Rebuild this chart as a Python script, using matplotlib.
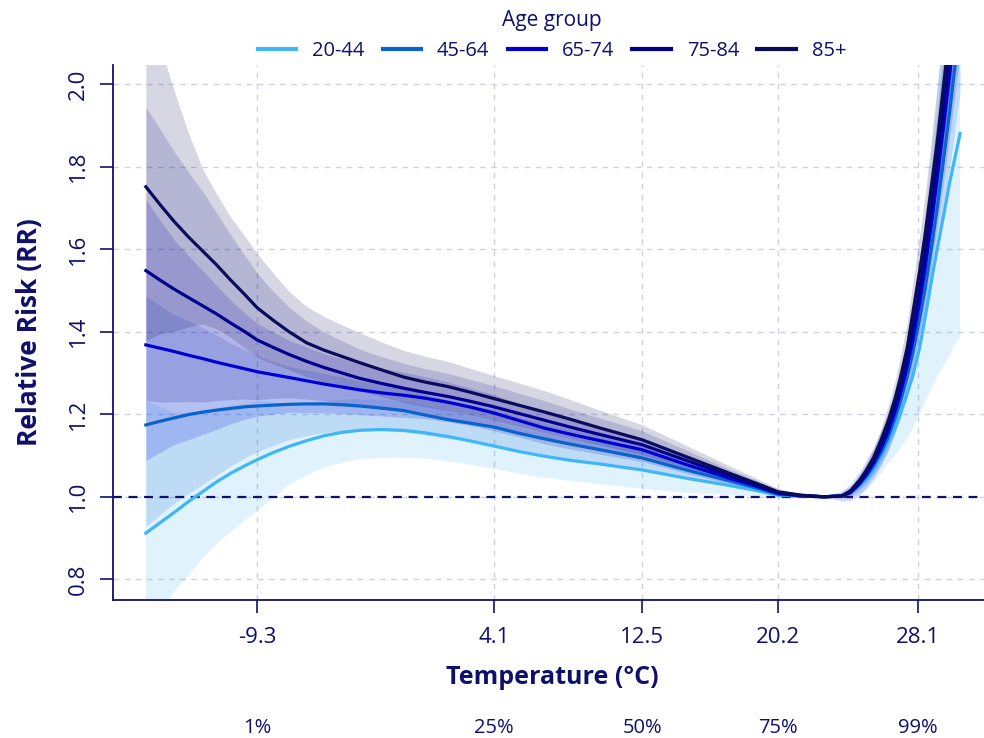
import matplotlib
matplotlib.use('Agg')
import matplotlib.pyplot as plt
import matplotlib.transforms as mtransforms
import numpy as np

plt.rcParams['font.family'] = ['Open Sans', 'DejaVu Sans']

# temperature grid (degC) and relative risk
temp = [-15.6, -14.8, -14, -13.2, -12.4, -11.6, -10.8, -10, -9.3, -8.4, -7.5, -6.5, -5.5,
        -4.5, -3.5, -2.3, -1, 0.2, 1.5, 2.8, 4.1, 5.5, 7, 8.5, 10, 12.5, 15, 17.5, 19,
        20.2, 21.5, 22.8, 23.8, 24.3, 24.8, 25.2, 25.6, 26, 26.4, 26.8, 27.1, 27.5,
        27.8, 28.2, 28.5, 28.9, 29.2, 29.6, 29.9, 30.2, 30.5]

rr_20_44 = [0.912, 0.937, 0.962, 0.988, 1.012, 1.036, 1.057, 1.075, 1.09, 1.107, 1.122, 1.136, 1.148,
            1.156, 1.161, 1.163, 1.161, 1.155, 1.146, 1.135, 1.123, 1.11, 1.098, 1.088, 1.08, 1.065, 1.045, 1.027, 1.015,
            1.004, 1.002, 1.0, 1.003, 1.012, 1.025, 1.042, 1.065, 1.095, 1.13, 1.165, 1.20, 1.25,
            1.29, 1.36, 1.43, 1.53, 1.60, 1.69, 1.76, 1.82, 1.88]
rr_45_64 = [1.174, 1.183, 1.191, 1.199, 1.205, 1.21, 1.214, 1.218, 1.22, 1.222, 1.224, 1.225, 1.225,
            1.223, 1.22, 1.215, 1.209, 1.198, 1.187, 1.178, 1.169, 1.154, 1.14, 1.127, 1.115, 1.094, 1.065, 1.038, 1.021,
            1.006, 1.002, 1.0, 1.002, 1.01, 1.03, 1.05, 1.075, 1.105, 1.142, 1.188, 1.228, 1.29,
            1.345, 1.43, 1.50, 1.61, 1.70, 1.83, 1.93, 2.04, 2.15]
rr_65_74 = [1.368, 1.36, 1.352, 1.343, 1.335, 1.326, 1.318, 1.31, 1.303, 1.296, 1.289, 1.281, 1.273,
            1.266, 1.259, 1.252, 1.246, 1.239, 1.229, 1.217, 1.203, 1.185, 1.166, 1.151, 1.137, 1.114, 1.078, 1.044, 1.025,
            1.008, 1.003, 1.0, 1.002, 1.011, 1.032, 1.055, 1.082, 1.115, 1.155, 1.205, 1.248, 1.315,
            1.375, 1.47, 1.55, 1.67, 1.77, 1.91, 2.02, 2.14, 2.26]
rr_75_84 = [1.548, 1.525, 1.503, 1.483, 1.463, 1.443, 1.421, 1.40, 1.38, 1.362, 1.345, 1.328, 1.313,
            1.30, 1.287, 1.275, 1.263, 1.253, 1.243, 1.231, 1.218, 1.202, 1.185, 1.168, 1.152, 1.126, 1.088, 1.05, 1.028,
            1.01, 1.003, 1.0, 1.002, 1.013, 1.035, 1.06, 1.088, 1.125, 1.167, 1.22, 1.265, 1.335,
            1.40, 1.50, 1.585, 1.71, 1.81, 1.96, 2.08, 2.21, 2.34]
rr_85 = [1.751, 1.708, 1.667, 1.63, 1.596, 1.562, 1.525, 1.49, 1.458, 1.428, 1.40, 1.373, 1.355,
         1.34, 1.325, 1.308, 1.29, 1.278, 1.267, 1.253, 1.238, 1.222, 1.205, 1.187, 1.168, 1.138, 1.097, 1.056, 1.032,
         1.012, 1.004, 1.0, 1.002, 1.015, 1.04, 1.065, 1.095, 1.135, 1.18, 1.235, 1.285, 1.36,
         1.44, 1.545, 1.63, 1.76, 1.86, 2.01, 2.13, 2.26, 2.40]

# ratio of the 95% CI bounds to RR (upper = rr*k, lower = rr/k)
k_20_44 = [1.35, 1.30, 1.25, 1.22, 1.19, 1.17, 1.155, 1.14, 1.13, 1.11, 1.09, 1.08, 1.072,
           1.068, 1.065, 1.062, 1.06, 1.057, 1.055, 1.053, 1.052, 1.051, 1.05, 1.048, 1.047, 1.045, 1.035, 1.022, 1.014,
           1.007, 1.003, 1.0, 1.006, 1.012, 1.02, 1.025, 1.03, 1.037, 1.045, 1.06, 1.075, 1.095,
           1.11, 1.135, 1.163, 1.21, 1.24, 1.28, 1.31, 1.33, 1.355]
k_45_64 = [1.265, 1.237, 1.21, 1.19, 1.17, 1.15, 1.13, 1.113, 1.10, 1.087, 1.075, 1.067, 1.06,
           1.055, 1.05, 1.047, 1.045, 1.042, 1.04, 1.038, 1.037, 1.035, 1.034, 1.032, 1.03, 1.026, 1.02, 1.013, 1.009,
           1.006, 1.002, 1.0, 1.005, 1.009, 1.013, 1.017, 1.02, 1.024, 1.028, 1.032, 1.036, 1.04,
           1.045, 1.05, 1.055, 1.06, 1.065, 1.07, 1.075, 1.08, 1.085]
k_65_74 = [1.257, 1.228, 1.2, 1.18, 1.16, 1.14, 1.12, 1.103, 1.09, 1.08, 1.07, 1.064, 1.058,
           1.054, 1.05, 1.047, 1.045, 1.042, 1.04, 1.038, 1.037, 1.035, 1.034, 1.032, 1.03, 1.026, 1.02, 1.013, 1.009,
           1.006, 1.002, 1.0, 1.012, 1.02, 1.028, 1.032, 1.035, 1.038, 1.04, 1.043, 1.045, 1.048,
           1.05, 1.055, 1.06, 1.065, 1.07, 1.075, 1.08, 1.085, 1.09]
k_75_84 = [1.256, 1.24, 1.222, 1.205, 1.19, 1.17, 1.15, 1.132, 1.117, 1.10, 1.085, 1.074, 1.065,
           1.06, 1.055, 1.051, 1.048, 1.046, 1.045, 1.043, 1.042, 1.041, 1.04, 1.037, 1.035, 1.03, 1.023, 1.015, 1.011,
           1.007, 1.003, 1.0, 1.004, 1.008, 1.012, 1.016, 1.02, 1.024, 1.028, 1.032, 1.036, 1.04,
           1.045, 1.05, 1.055, 1.06, 1.065, 1.07, 1.075, 1.08, 1.085]
k_85 = [1.27, 1.225, 1.19, 1.155, 1.125, 1.11, 1.10, 1.095, 1.09, 1.08, 1.07, 1.064, 1.06,
        1.057, 1.055, 1.052, 1.05, 1.049, 1.048, 1.046, 1.045, 1.044, 1.043, 1.04, 1.037, 1.032, 1.025, 1.017, 1.012,
        1.008, 1.003, 1.0, 1.004, 1.008, 1.012, 1.016, 1.02, 1.025, 1.03, 1.035, 1.04, 1.045,
        1.05, 1.055, 1.06, 1.065, 1.07, 1.075, 1.08, 1.085, 1.09]

groups = ['20-44', '45-64', '65-74', '75-84', '85+']
colors = ['#3fb6f6', '#0a62cc', '#0000d6', '#00008c', '#0b0b5c']
rr_all = [rr_20_44, rr_45_64, rr_65_74, rr_75_84, rr_85]
k_all = [k_20_44, k_45_64, k_65_74, k_75_84, k_85]

xticks = [-9.3, 4.1, 12.5, 20.2, 28.1]
pct_labels = ['1%', '25%', '50%', '75%', '99%']
yticks = [0.8, 1.0, 1.2, 1.4, 1.6, 1.8, 2.0]

navy = '#10106c'

fig = plt.figure(figsize=(9.84, 7.38), dpi=100)
ax = fig.add_axes([113/984, 1 - 600/738, 871/984, 535/738])

# ribbons then lines
for rr, k, col in zip(rr_all, k_all, colors):
    rr = np.array(rr)
    k = np.array(k)
    ax.fill_between(temp, rr / k, rr * k, color=col, alpha=0.16, lw=0, zorder=2)
lines = []
for g, rr, col in zip(groups, rr_all, colors):
    ln, = ax.plot(temp, rr, color=col, lw=2.3, label=g, zorder=4)
    lines.append(ln)

ax.axhline(1.0, color=navy, lw=1.6, ls=(0, (4, 3)), zorder=3)

ax.set_xlim(-17.46, 31.85)
ax.set_ylim(0.75, 2.046)
ax.set_xticks(xticks)
ax.set_xticklabels([str(t) for t in xticks])
ax.set_yticks(yticks)
ax.set_yticklabels(['%.1f' % v for v in yticks], rotation=90, va='center')
ax.tick_params(axis='x', colors=navy, length=9.5, width=1.2, labelsize=16, pad=10)
ax.tick_params(axis='y', colors=navy, length=9.5, width=1.2, labelsize=16, pad=8)
ax.grid(True, color='#d0d0e4', ls=(0, (4, 4)), lw=1, zorder=0)
ax.set_axisbelow(True)
for s in ['top', 'right']:
    ax.spines[s].set_visible(False)
for s in ['left', 'bottom']:
    ax.spines[s].set_color(navy)
    ax.spines[s].set_linewidth(1.3)

fig.text(552/984, 1 - 677/738, 'Temperature (°C)', ha='center', va='center',
         fontsize=18, fontweight='bold', color=navy)
fig.text(30/984, 1 - 332/738, 'Relative Risk (RR)', ha='center', va='center',
         rotation=90, fontsize=19, fontweight='bold', color=navy)

trans = mtransforms.blended_transform_factory(ax.transData, fig.transFigure)
for t, lab in zip(xticks, pct_labels):
    ax.text(t, 1 - 728/738, lab, transform=trans, ha='center', va='center',
            fontsize=14.5, color=navy, clip_on=False)

leg = fig.legend(handles=lines, labels=groups, loc='upper center', bbox_to_anchor=(552/984, 1.0),
                 ncol=5, frameon=False, title='Age group', fontsize=14.5, title_fontsize=15,
                 handlelength=1.9, columnspacing=0.9, handletextpad=0.8, labelcolor=navy,
                 borderaxespad=0.1)
leg.get_title().set_color(navy)
for h in leg.legend_handles:
    h.set_linewidth(3)

fig.savefig('out.png', dpi=100)
